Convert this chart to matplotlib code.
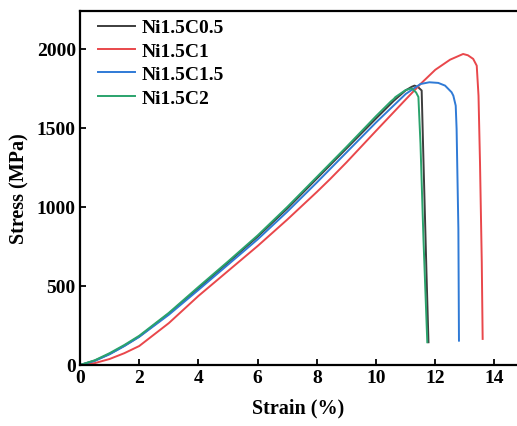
import matplotlib
matplotlib.use("Agg")
import matplotlib.pyplot as plt

# Stress-strain curves (strain %, stress MPa)
labels = ["Ni1.5C0.5", "Ni1.5C1", "Ni1.5C1.5", "Ni1.5C2"]
colors = ["#3d3d3d", "#e9474b", "#2f7ad6", "#2aa36c"]

strain_c05 = [0, 0.5, 1, 1.5, 2, 3, 4, 5, 6, 7, 8, 9, 10, 10.6, 11.0, 11.2, 11.3, 11.42, 11.54, 11.6, 11.7, 11.77]
stress_c05 = [0, 28, 70, 122, 180, 325, 485, 648, 812, 990, 1180, 1370, 1560, 1672, 1738, 1760, 1768, 1758, 1737, 1300, 600, 144]

strain_c1 = [0, 0.5, 1, 1.5, 2, 3, 4, 5, 6, 7, 8, 8.45, 9, 10, 11, 11.5, 12, 12.5, 12.94, 13.1, 13.28, 13.4, 13.46, 13.51, 13.57, 13.6]
stress_c1 = [0, 12, 38, 75, 120, 265, 437, 595, 753, 920, 1095, 1177, 1282, 1482, 1680, 1778, 1868, 1932, 1968, 1960, 1937, 1894, 1704, 1283, 652, 165]

strain_c15 = [0, 0.5, 1, 1.5, 2, 3, 4, 5, 6, 7, 8, 9, 10, 11, 11.5, 11.8, 12.1, 12.33, 12.55, 12.61, 12.69, 12.72, 12.78, 12.8]
stress_c15 = [0, 26, 68, 120, 178, 318, 475, 635, 795, 970, 1155, 1345, 1535, 1715, 1778, 1789, 1785, 1768, 1726, 1704, 1641, 1494, 861, 154]

strain_c2 = [0, 0.5, 1, 1.5, 2, 3, 4, 5, 6, 7, 8, 9, 10, 10.5, 10.6, 10.65, 11.0, 11.2, 11.35, 11.43, 11.5, 11.6, 11.73]
stress_c2 = [0, 30, 75, 127, 185, 330, 494, 655, 820, 1000, 1190, 1380, 1575, 1668, 1684, 1695, 1740, 1750, 1725, 1696, 1400, 800, 144]

series = [(strain_c05, stress_c05), (strain_c1, stress_c1), (strain_c15, stress_c15), (strain_c2, stress_c2)]

x_ticks = [0, 2, 4, 6, 8, 10, 12, 14]
y_ticks = [0, 500, 1000, 1500, 2000]

plt.rcParams['font.family'] = ['Liberation Serif', 'DejaVu Serif']
plt.rcParams['font.weight'] = 'bold'

fig = plt.figure(figsize=(5.17, 4.27), dpi=100)
ax = fig.add_axes([80 / 517, 61 / 427, 1 - 80 / 517, (366 - 12) / 427])

for (x, y), lab, col in zip(series, labels, colors):
    ax.plot(x, y, color=col, lw=1.4, label=lab)

ax.set_xlim(0, 14.76)
ax.set_ylim(0, 2240)
ax.set_xticks(x_ticks)
ax.set_yticks(y_ticks)
ax.tick_params(direction='in', length=4, width=1.3, labelsize=14, pad=3)
for lbl in ax.get_xticklabels() + ax.get_yticklabels():
    lbl.set_fontweight('bold')
for s in ax.spines.values():
    s.set_linewidth(1.6)
ax.spines['right'].set_visible(False)

ax.set_xlabel("Strain (%)", fontsize=14.5, fontweight='bold', labelpad=8)
ax.set_ylabel("Stress (MPa)", fontsize=14.5, fontweight='bold', labelpad=5)

leg = ax.legend(loc='upper left', frameon=False, fontsize=14, handlelength=1.9,
                handletextpad=0.35, labelspacing=0.3, borderaxespad=0.0,
                bbox_to_anchor=(0.023, 1.0))
for t in leg.get_texts():
    t.set_fontweight('bold')

fig.savefig("out.png", dpi=100)
